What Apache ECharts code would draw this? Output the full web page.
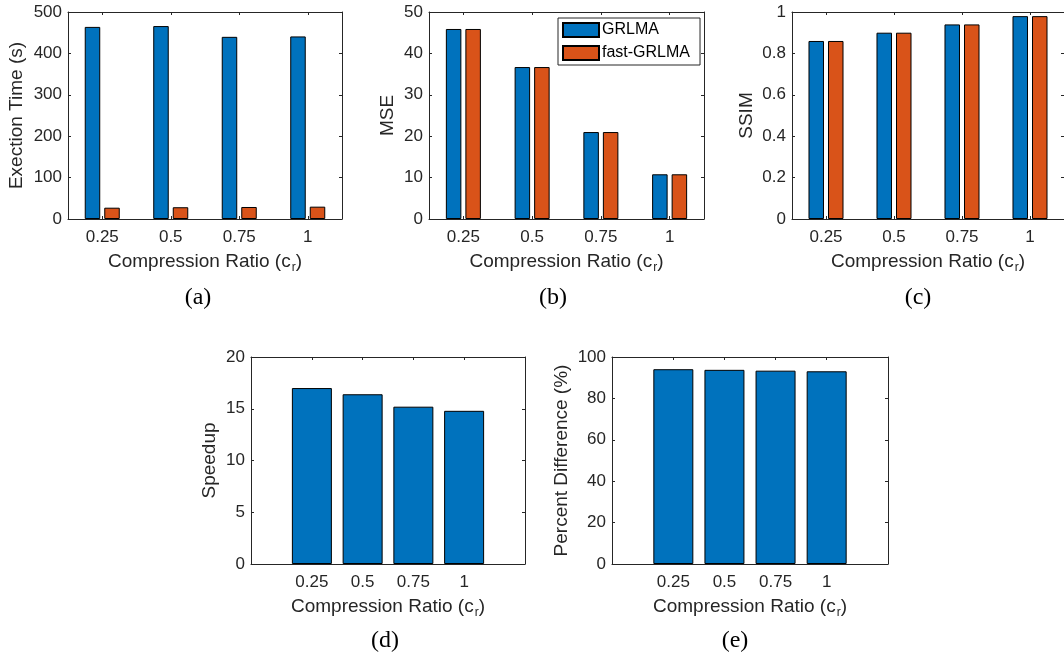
<!DOCTYPE html>
<html>
<head>
<meta charset="utf-8">
<script src="https://cdn.jsdelivr.net/npm/echarts@6/dist/echarts.min.js"></script>
<style>
  html, body { margin: 0; padding: 0; background: #ffffff; }
  #chart { width: 1064px; height: 659px; }
</style>
</head>
<body>
<div id="chart"></div>
<script>
// Compression ratios (category labels shared by every panel)
const ratios = ['0.25', '0.5', '0.75', '1'];

// (a) execution time in seconds
const timeGRLMA = [464, 466, 440, 441];
const timeFastGRLMA = [27.3, 28.4, 29.0, 29.8];

// (b) mean squared error
const mseGRLMA = [45.9, 36.7, 21.0, 10.8];
const mseFastGRLMA = [45.9, 36.7, 21.0, 10.8];

// (c) structural similarity
const ssimGRLMA = [0.86, 0.90, 0.94, 0.98];
const ssimFastGRLMA = [0.86, 0.90, 0.94, 0.98];

// (d) speedup of fast-GRLMA over GRLMA, (e) percent difference in run time
const speedup = [17.0, 16.4, 15.2, 14.8];
const percentDiff = [94.1, 93.8, 93.4, 93.1];

// Panel captions
const captions = ['(a)', '(b)', '(c)', '(d)', '(e)'];

const BLUE = '#0072BD';
const ORANGE = '#D95319';
const INK = '#262626';
const SANS = "'Liberation Sans', Arial, Helvetica, sans-serif";
const SERIF = "'Liberation Serif', 'Times New Roman', serif";

const xName = '{m|Compression Ratio (c}{s|r}{m|)}';
const xNameStyle = {
  rich: {
    m: { fontSize: 19, fontFamily: SANS, color: INK, lineHeight: 22, verticalAlign: 'top' },
    s: { fontSize: 12, fontFamily: SANS, color: INK, lineHeight: 12, verticalAlign: 'top', padding: [10, 0, 0, 1] }
  }
};

const grids = [
  { left: 68,  top: 12,  width: 274, height: 207 },
  { left: 429, top: 12,  width: 275, height: 207 },
  { left: 792, top: 12,  width: 274, height: 207 },
  { left: 251, top: 357, width: 274, height: 207 },
  { left: 612, top: 357, width: 276, height: 207 }
];

const yCfg = [
  { max: 500, interval: 100, name: 'Exection Time (s)', gap: 42 },
  { max: 50,  interval: 10,  name: 'MSE', gap: 32 },
  { max: 1,   interval: 0.2, name: 'SSIM', gap: 36 },
  { max: 20,  interval: 5,   name: 'Speedup', gap: 32 },
  { max: 100, interval: 20,  name: 'Percent Difference (%)', gap: 41 }
];

const lineStyle = { color: INK, width: 1 };
const tickBase = { show: true, inside: true, length: 3, lineStyle: { color: INK, width: 1 } };
const tickLabel = { color: INK, fontSize: 17, fontFamily: SANS };

const xAxes = [];
const yAxes = [];
const positions = [1, 2, 3, 4];

grids.forEach((g, i) => {
  if (i < 3) {
    // grouped panels: category axis, bars inside bands
    xAxes.push({
      type: 'category', gridIndex: i, data: ratios, position: 'bottom',
      axisLine: { show: true, lineStyle, onZero: false },
      axisTick: Object.assign({ alignWithLabel: true }, tickBase),
      axisLabel: Object.assign({ margin: 10 }, tickLabel),
      name: xName, nameLocation: 'middle', nameGap: 33, nameTextStyle: xNameStyle
    });
    xAxes.push({
      type: 'category', gridIndex: i, data: ratios, position: 'top',
      axisLine: { show: true, lineStyle, onZero: false },
      axisTick: Object.assign({ alignWithLabel: true }, tickBase),
      axisLabel: { show: false }
    });
  } else {
    // single-series panels: value axis with padding on both sides
    xAxes.push({
      type: 'value', gridIndex: i, min: -0.2, max: 5.2, position: 'bottom',
      splitLine: { show: false },
      axisLine: { show: true, lineStyle, onZero: false },
      axisTick: Object.assign({ customValues: positions }, tickBase),
      axisLabel: Object.assign({ margin: 10, customValues: positions,
        formatter: v => ratios[Math.round(v) - 1] }, tickLabel),
      name: xName, nameLocation: 'middle', nameGap: 33, nameTextStyle: xNameStyle
    });
    xAxes.push({
      type: 'value', gridIndex: i, min: -0.2, max: 5.2, position: 'top',
      splitLine: { show: false },
      axisLine: { show: true, lineStyle, onZero: false },
      axisTick: Object.assign({ customValues: positions }, tickBase),
      axisLabel: { show: false }
    });
  }
  const y = yCfg[i];
  yAxes.push({
    type: 'value', gridIndex: i, min: 0, max: y.max, interval: y.interval, position: 'left',
    splitLine: { show: false },
    axisLine: { show: true, lineStyle, onZero: false },
    axisTick: tickBase,
    axisLabel: Object.assign({ margin: 6 }, tickLabel),
    name: y.name, nameLocation: 'middle', nameGap: y.gap,
    nameTextStyle: { fontSize: 19, fontFamily: SANS, color: INK }
  });
  yAxes.push({
    type: 'value', gridIndex: i, min: 0, max: y.max, interval: y.interval, position: 'right',
    splitLine: { show: false },
    axisLine: { show: true, lineStyle, onZero: false },
    axisTick: tickBase,
    axisLabel: { show: false }
  });
});

const barEdge = { borderColor: '#000000', borderWidth: 1 };

function pairSeries(panel, a, b) {
  return [
    { name: 'GRLMA', type: 'bar', xAxisIndex: panel * 2, yAxisIndex: panel * 2, data: a,
      barWidth: 15.5, barGap: '26%', itemStyle: Object.assign({ color: BLUE }, barEdge), animation: false },
    { name: 'fast-GRLMA', type: 'bar', xAxisIndex: panel * 2, yAxisIndex: panel * 2, data: b,
      barWidth: 15.5, barGap: '26%', itemStyle: Object.assign({ color: ORANGE }, barEdge), animation: false }
  ];
}

function singleSeries(panel, name, values) {
  return {
    name, type: 'bar', xAxisIndex: panel * 2, yAxisIndex: panel * 2,
    data: values.map((v, k) => [positions[k], v]),
    barWidth: 40, itemStyle: Object.assign({ color: BLUE }, barEdge), animation: false
  };
}

const series = [].concat(
  pairSeries(0, timeGRLMA, timeFastGRLMA),
  pairSeries(1, mseGRLMA, mseFastGRLMA),
  pairSeries(2, ssimGRLMA, ssimFastGRLMA),
  [singleSeries(3, 'Speedup', speedup), singleSeries(4, 'Percent Difference', percentDiff)]
);

const captionPos = [[198, 298], [553, 298], [918, 298], [385, 641], [735, 641]];
const graphic = captions.map((c, i) => ({
  type: 'text', x: captionPos[i][0], y: captionPos[i][1],
  style: { text: c, fontSize: 24, fontFamily: SERIF, fill: '#000000', align: 'center', verticalAlign: 'middle' }
}));

const option = {
  animation: false,
  backgroundColor: '#ffffff',
  grid: grids,
  xAxis: xAxes,
  yAxis: yAxes,
  legend: {
    data: ['GRLMA', 'fast-GRLMA'],
    orient: 'vertical', left: 558, top: 18,
    icon: 'rect',
    itemWidth: 36, itemHeight: 14, itemGap: 7,
    padding: [4, 10, 4, 4],
    borderColor: INK, borderWidth: 1, backgroundColor: '#ffffff',
    textStyle: { fontSize: 16, fontFamily: SANS, color: '#000000', padding: [0, 0, 0, -2] },
    selectedMode: false
  },
  series,
  graphic
};

const chart = echarts.init(document.getElementById('chart'), null, { renderer: 'canvas' });
chart.setOption(option);
</script>
</body>
</html>
